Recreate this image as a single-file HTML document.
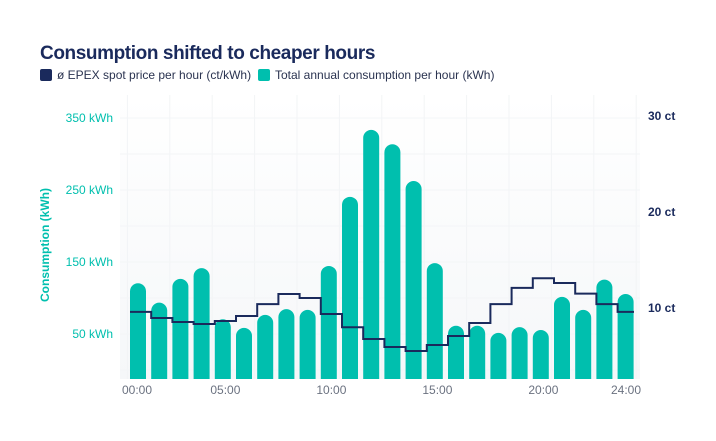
<!DOCTYPE html>
<html><head><meta charset="utf-8"><style>
body{margin:0;background:#fff;width:716px;height:436px;overflow:hidden;font-family:"Liberation Sans",sans-serif}
</style></head><body>
<svg width="716" height="436" viewBox="0 0 716 436" xmlns="http://www.w3.org/2000/svg">
<defs>
<linearGradient id="bg" x1="0" y1="0" x2="0" y2="1"><stop offset="0" stop-color="#fff"/><stop offset="1" stop-color="#f5f7f9"/></linearGradient>
</defs>
<text x="40" y="59" font-size="19" font-weight="bold" fill="#1a2a5c" letter-spacing="-0.4">Consumption shifted to cheaper hours</text>
<g>
<rect x="40" y="69" width="12" height="12" rx="2" fill="#1a2a5c"/>
<text x="57" y="79" font-size="12" fill="#2a3350">ø EPEX spot price per hour (ct/kWh)</text>
<rect x="258" y="69" width="12" height="12" rx="2" fill="#00bfae"/>
<text x="275" y="79" font-size="12" fill="#2a3350">Total annual consumption per hour (kWh)</text>
</g>
<rect x="120" y="95" width="520" height="284" fill="url(#bg)"/>
<g id="grid"></g>
<g id="bars"></g>
<path id="line" fill="none" stroke="#1a2a5c" stroke-width="2"/>
<g id="axes"></g>
<text transform="translate(49,245) rotate(-90)" text-anchor="middle" font-size="12" font-weight="bold" fill="#00bfae">Consumption (kWh)</text>
</svg>
<script>
const consumption=[133,106,139,154,83,71,89,97,96,157,253,346,326,275,161,74,74,64,72,68,114,96,138,118];
const price=[9.6,8.96,8.54,8.33,8.65,9.17,10.4,11.46,11.04,9.375,8.0,6.77,5.94,5.52,6.15,7.08,8.44,10.4,12.1,13.1,12.6,11.5,10.4,9.6];
const leftTicks=[50,150,250,350];
const rightTicks=[10,20,30];
const xLabels=["00:00","05:00","10:00","15:00","20:00","24:00"];
const xLabelHours=[0,5,10,15,20,24];

const NS="http://www.w3.org/2000/svg";
const x0=130,pitch=21.2,bw=16,base=379;
const yL=v=>base-v*0.72;
const yR=p=>404-p*9.6;
const xH=h=>x0+h*pitch;
function mk(tag,attrs,parent){const e=document.createElementNS(NS,tag);for(const k in attrs)e.setAttribute(k,attrs[k]);parent.appendChild(e);return e;}
const grid=document.getElementById('grid');
for(let h=0;h<=24;h+=2){
  const g=mk('line',{x1:xH(h)-2.6,x2:xH(h)-2.6,y1:95,y2:379,stroke:'#f2f4f6','stroke-width':1},grid);
  
  
}
for(let v=0;v<=350;v+=50){
  const g=mk('line',{x1:120,x2:640,y1:yL(v)-9,y2:yL(v)-9,stroke:'#f3f5f7','stroke-width':1},grid);
  
  
}
const bars=document.getElementById('bars');
consumption.forEach((v,i)=>{
  const top=yL(v),x=xH(i),r=bw/2;
  const d=`M${x},${base} L${x},${top+r} A${r},${r} 0 0 1 ${x+bw},${top+r} L${x+bw},${base} Z`;
  const b=mk('path',{d:d,fill:'#00bfae'},bars);
  
  
});
let d='';
price.forEach((p,i)=>{
  const y=yR(p),xa=xH(i),xb=Math.min(xH(i+1),634);
  d+=(i===0?`M${xa},${y}`:`L${xa},${y}`)+` L${xb},${y} `;
});
document.getElementById('line').setAttribute('d',d);
const axes=document.getElementById('axes');
leftTicks.forEach(v=>{
  const t=mk('text',{x:113,y:yL(v)-9+4,'text-anchor':'end','font-size':12,fill:'#00bfae'},axes);
  t.textContent=v+' kWh';
  
  
});
rightTicks.forEach(v=>{
  const t=mk('text',{x:648,y:yR(v)+4,'font-size':12,'font-weight':'bold',fill:'#1a2a5c'},axes);
  t.textContent=v+' ct';
  
  
});
xLabels.forEach((s,i)=>{
  const h=xLabelHours[i];
  let x=x0+pitch*(h-0.5);
  if(h===0)x=137; if(h===24)x=626;
  const t=mk('text',{x:x,y:394,'text-anchor':'middle','font-size':12,fill:'#6b7280'},axes);
  t.textContent=s;
  
  
});
</script>
</body></html>
